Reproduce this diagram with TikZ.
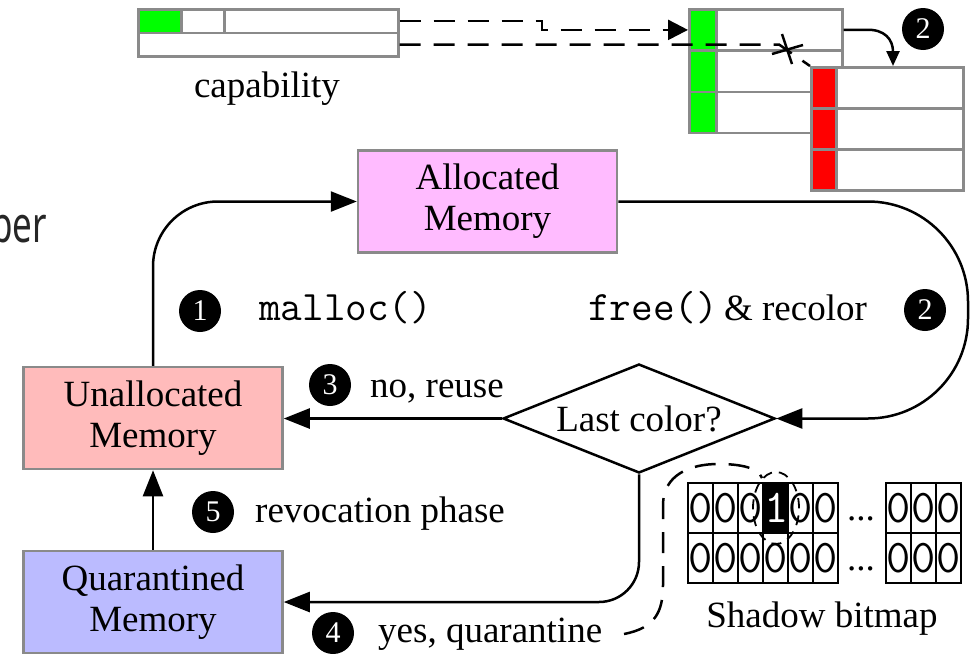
\documentclass[tikz,border=0pt]{standalone}
\usepackage{fontspec}
\setmainfont{Liberation Serif}
\newfontfamily\fragfont{Noto Sans}
\usetikzlibrary{arrows.meta,shapes.geometric,calc}

\definecolor{edgegray}{RGB}{138,138,138}
\definecolor{tagGreen}{RGB}{0,255,0}
\definecolor{tagRed}{RGB}{255,0,0}
\definecolor{allocFill}{RGB}{255,187,255}
\definecolor{freeFill}{RGB}{255,187,187}
\definecolor{quarFill}{RGB}{187,187,255}

\tikzset{
  txt/.style={font=\fontsize{37}{41}\selectfont, inner sep=0pt},
  code/.style={font=\fontsize{42}{46}\selectfont\ttfamily, inner sep=0pt},
  membox/.style={draw=edgegray, line width=2.5pt, minimum width=259pt,
    minimum height=102pt, align=center, inner sep=0pt,
    font=\fontsize{37}{41}\selectfont},
  flow/.style={line width=2.5pt, -{Triangle[length=26pt,width=20pt]}},
  ptr/.style={line width=2.5pt, dash pattern=on 21pt off 13pt},
  stepmark/.style={circle, fill=black, text=white, minimum size=42pt,
    inner sep=0pt, font=\fontsize{30}{30}\selectfont},
  tagcell/.style={draw=edgegray, line width=2.5pt, minimum width=27pt,
    minimum height=41.3pt, inner sep=0pt, anchor=north west},
  bitcell/.style={draw=black, line width=2pt},
  bit/.style={inner sep=0pt, font=\fontsize{47}{47}\selectfont\ttfamily},
}

\begin{document}
\begin{tikzpicture}[x=1pt,y=-1pt]
\useasboundingbox (0,0) rectangle (979,653);
\clip (0,0) rectangle (979,653);

% edge of a neighbouring caption
\node[anchor=base west, inner sep=0pt, font=\fontsize{50}{50}\fragfont,
  text=black!85] (frag) at (-9,242) {\scalebox{0.7}[1]{per}};

% ---------- capability ----------
\node[tagcell, fill=tagGreen, minimum width=43pt, minimum height=23.5pt] (captag) at (137,8) {};
\node[tagcell, minimum width=43pt, minimum height=23.5pt] (capfield) at (180,8) {};
\node[tagcell, minimum width=174pt, minimum height=23.5pt] (capaddr) at (223,8) {};
\node[tagcell, minimum width=260pt, minimum height=23.5pt] (capbase) at (137,31.5) {};
\node[txt, anchor=base] (caplabel) at (267,97) {capability};

% ---------- old (green) and recoloured (red) object ----------
\foreach \r in {1,2,3} {
  \node[tagcell, fill=tagGreen] (oldtag\r) at (688,{8+41.33*(\r-1)}) {};
  \node[tagcell, fill=white, minimum width=126pt] (olddata\r) at (715,{8+41.33*(\r-1)}) {};
}
\foreach \r in {1,2,3} {
  \node[tagcell, fill=tagRed, minimum width=25pt, minimum height=41pt] (newtag\r) at (810,{66+41*(\r-1)}) {};
  \node[tagcell, fill=white, minimum width=127pt, minimum height=41pt] (newdata\r) at (835,{66+41*(\r-1)}) {};
}

% pointers held by the capability
\coordinate (jog) at (542,0);
\coordinate (bend) at (779,0);
\draw[ptr, -{Triangle[length=20pt,width=20pt]}] (capaddr.east) -| (jog |- oldtag1.west) -- (oldtag1.west);
\draw[ptr] (capbase.east) -- (capbase.east -| bend) -- (newtag1.north west);
\draw[line width=2.5pt] (772,54) -- (803,45) (782,34) -- (792,64);

% recolouring step
\coordinate (drop) at (893,0);
\draw[line width=2.5pt, -{Triangle[length=15pt,width=13pt]}]
  (olddata1.east) -- ++(22,0) .. controls (885,28.67) and (893,40) .. (drop |- newdata1.north);
\node[stepmark] (s2top) at (923,29) {2};

% ---------- memory states ----------
\node[membox, fill=allocFill] (alloc) at (487.5,201.5) {Allocated\\Memory};
\node[membox, fill=freeFill] (unalloc) at (153,418) {Unallocated\\Memory};
\node[membox, fill=quarFill] (quar) at (153,602) {Quarantined\\Memory};
\node[draw, diamond, aspect=2.5, line width=2.5pt, minimum width=272pt,
  minimum height=109pt, inner sep=0pt, font=\fontsize{37}{41}\selectfont] (dia) at (639,418.5) {Last color?};

% ---------- transitions ----------
\coordinate (rx) at (968,310);
\draw[flow, rounded corners=65pt] (unalloc.north) |- (alloc.west);
\draw[flow, rounded corners=100pt] (alloc.east) -- (alloc.east -| rx) -- (rx |- dia.east) -- (dia.east);
\draw[flow] (dia.west) -- (dia.west -| unalloc.east);
\draw[flow, rounded corners=40pt] (dia.south) |- (quar.east);
\draw[flow] (quar.north) -- (unalloc.south);

% ---------- labels ----------
\node[stepmark] (s1) at (200,311) {1};
\node[code, anchor=base west] (mallocl) at (259,320) {malloc()};
\node[txt, anchor=base west] (freel) at (588,320) {{\fontsize{42}{46}\selectfont\ttfamily free()}\,\& recolor};
\node[stepmark] (s2) at (925,310) {2};
\node[stepmark] (s3) at (330,385) {3};
\node[txt, anchor=base west] (reusel) at (370,397) {no, reuse};
\node[stepmark] (s5) at (213,512) {5};
\node[txt, anchor=base west] (revokel) at (255,522) {revocation phase};
\node[stepmark] (s4) at (333,633) {4};
\node[txt, anchor=base west] (quarl) at (378,642) {yes, quarantine};

% ---------- shadow bitmap ----------
\fill[black] (764,483) rectangle (789,533);
\foreach \c in {0,...,5} \foreach \w in {0,1}
  \draw[bitcell] ({688+25*\c},{483+50*\w}) rectangle ++(25,50);
\foreach \c in {0,1,2} \foreach \w in {0,1}
  \draw[bitcell] ({886+25*\c},{483+50*\w}) rectangle ++(25,50);
\foreach \c in {0,1,2,4,5}
  \node[bit] (top\c) at ({700.5+25*\c},508) {0};
\node[bit, text=white] (top3) at (776.5,508) {1};
\foreach \c in {0,...,5}
  \node[bit] (bot\c) at ({700.5+25*\c},558) {0};
\foreach \c in {0,1,2} {
  \node[bit] (tail\c) at ({898.5+25*\c},508) {0};
  \node[bit] (tailb\c) at ({898.5+25*\c},558) {0};
}
\node[txt, anchor=base] (dots1) at (861,520) {...};
\node[txt, anchor=base] (dots2) at (861,570) {...};
\node[txt, anchor=base] (shadowl) at (822,627) {Shadow bitmap};

% marked bit and its link to the quarantine step
\node[draw, ellipse, line width=1.8pt, dash pattern=on 10pt off 7pt,
  minimum width=46pt, minimum height=72pt, inner sep=0pt] (ring) at (776,508) {};
\coordinate (qtail) at (624,634);
\draw[ptr] (qtail) .. controls (655,628) and (663,612) .. (663,585) -- (663,505)
  .. controls (663,475) and (690,464) .. (718,464)
  .. controls (742,464) and (758,468) .. (ring.115);
\end{tikzpicture}
\end{document}
